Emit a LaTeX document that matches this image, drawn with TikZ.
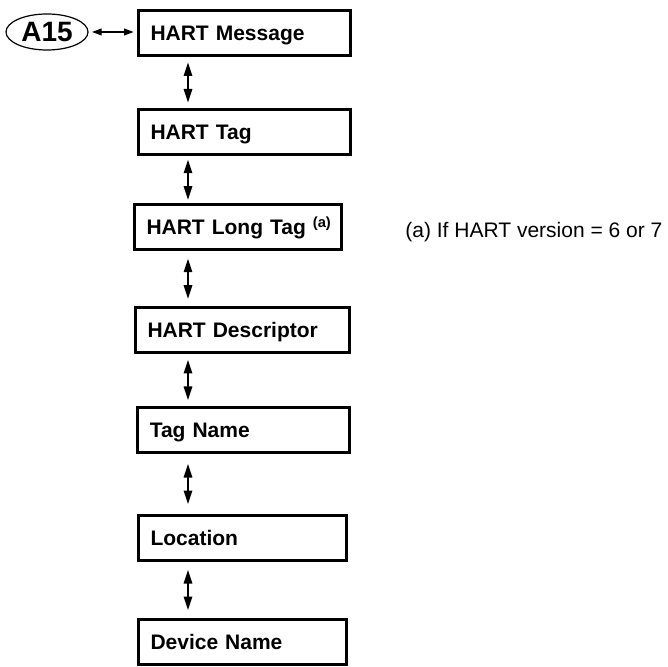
\documentclass[tikz,border=0pt]{standalone}
\usepackage{fontspec}
\setmainfont{Liberation Sans}
\usetikzlibrary{arrows.meta,calc,shapes.geometric}
\tikzset{
  box/.style={draw,line width=1.5pt,text width=94pt,align=left,inner xsep=6pt,
    text height=7.5pt,text depth=0pt,minimum height=22.5pt,
    font=\fontsize{10.5}{12}\selectfont\bfseries},
  updown/.style={line width=1.4pt,{Triangle[length=7pt,width=4pt]}-{Triangle[length=7pt,width=4pt]}},
  leftright/.style={line width=1.1pt,{Triangle[length=5pt,width=3.2pt]}-{Triangle[length=5pt,width=3.2pt]},
    shorten <=1.5pt,shorten >=1.5pt}
}

\begin{document}
\begin{tikzpicture}[x=0.5pt,y=-0.5pt]
  \useasboundingbox (0,0) rectangle (668,667);
  \node[ellipse,draw,line width=0.6pt,minimum width=41pt,minimum height=18pt,inner sep=0pt,
    font=\fontsize{14}{14}\selectfont\bfseries] (A) at (47,32) {A15};

  \node[box] (M) at (244.5,33) {HART Message};
  \node[box] (T) at (244.5,132) {HART Tag};
  \node[box,text width=91.5pt] (LT) at (238,227.5) {\mbox{HART Long Tag \textsuperscript{(a)}}};
  \node[box,text width=95pt] (HD) at (242.5,330) {HART Descriptor};
  \node[box,text width=93.75pt] (TN) at (243.5,430) {Tag Name};
  \node[box,text width=92pt] (L) at (242.5,538) {Location};
  \node[box,text width=92pt] (DN) at (242.5,642) {Device Name};

  \node[anchor=base west,inner sep=0pt,font=\fontsize{10.5}{12}\selectfont] (fn) at (405,238)
    {(a) If HART version = 6 or 7};

  \coordinate (sp) at (188,0);
  \draw[leftright] (A.east) -- (A.east -| M.west);
  \foreach \a/\b in {M/T,T/LT,LT/HD,HD/TN,TN/L,L/DN}{
    \coordinate (mid) at ($(\a.south)!.5!(\b.north)$);
    \draw[updown] (sp |- mid) ++(0,-20.5) -- ++(0,41);
  }
\end{tikzpicture}
\end{document}
